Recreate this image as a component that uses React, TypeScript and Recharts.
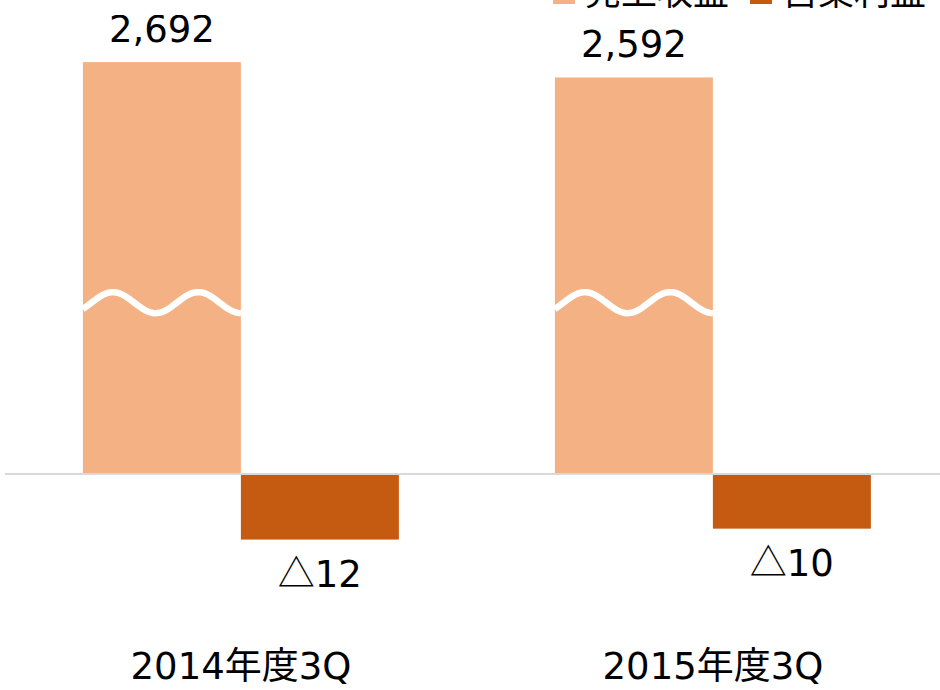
import React from 'react';
import { BarChart, Bar, XAxis, YAxis, ReferenceLine, Legend } from 'recharts';

const categories = ['2014年度3Q', '2015年度3Q'];
const revenue = [2692, 2592];
const operatingProfit = [-12, -10];
const seriesNames = ['売上収益', '営業利益'];
const revenueAxisDomain = [-1000, 3000];
const profitAxisDomain = [-28, 84];
const breakValue = 1120;

const data = categories.map((c, i) => ({ name: c, revenue: revenue[i], profit: operatingProfit[i] }));

const LIGHT = '#F4B183';
const DARK = '#C55A11';
const FONT = '"DejaVu Sans", "Noto Sans CJK JP", sans-serif';
const CJK = '"Noto Sans CJK JP", sans-serif';
const FONT_SIZE = 37;

const ValueText = ({ x, y, v }: { x: number; y: number; v: number }) => (
  <text x={x} y={y} textAnchor="middle" fontSize={FONT_SIZE} fontFamily={FONT} fill="#000">
    {v < 0 ? (
      <>
        <tspan fontFamily={CJK}>△</tspan>
        <tspan>{Math.abs(v)}</tspan>
      </>
    ) : (
      v.toLocaleString('en-US')
    )}
  </text>
);

const RevenueShape = (props: any) => {
  const { x, y, width, height, fill, payload } = props;
  const top = Math.min(y, y + height);
  const h = Math.abs(height);
  const bottom = top + h;
  const v = payload.revenue;
  const wc = bottom - (breakValue * h) / v;
  const period = width * 0.54;
  const phase0 = x + width * 0.19;
  const amp = 10.5;
  const pts: string[] = [];
  for (let xx = x; xx <= x + width + 0.01; xx += 2) {
    const yy = wc - amp * Math.cos((2 * Math.PI * (xx - phase0)) / period);
    pts.push(`${pts.length === 0 ? 'M' : 'L'}${xx.toFixed(2)},${yy.toFixed(2)}`);
  }
  return (
    <g>
      <rect x={x} y={top} width={width} height={h} fill={fill} />
      <path d={pts.join(' ')} stroke="#FFFFFF" strokeWidth={6.5} fill="none" />
      <ValueText x={x + width / 2} y={top - 20} v={v} />
    </g>
  );
};

const ProfitShape = (props: any) => {
  const { x, y, width, height, fill, payload } = props;
  const top = Math.min(y, y + height);
  const h = Math.abs(height);
  const bottom = top + h;
  const v = payload.profit;
  return (
    <g>
      <rect x={x} y={top} width={width} height={h} fill={fill} />
      <ValueText x={x + width / 2} y={v < 0 ? bottom + 47 : top - 20} v={v} />
    </g>
  );
};

const CategoryTick = (props: any) => {
  const { x, y, payload } = props;
  return (
    <text x={x} y={y + 52} textAnchor="middle" fontSize={FONT_SIZE} fontFamily={FONT} fill="#000">
      {payload.value}
    </text>
  );
};

const LegendContent = () => {
  const colors = [LIGHT, DARK];
  return (
    <div style={{ display: 'flex', alignItems: 'center', fontFamily: FONT, fontSize: 36, lineHeight: '44px', color: '#000', whiteSpace: 'nowrap' }}>
      {seriesNames.map((n, i) => (
        <div key={n} style={{ display: 'flex', alignItems: 'center', marginRight: 21 }}>
          <span style={{ display: 'inline-block', width: 22, height: 22, background: colors[i], marginRight: 10 }} />
          <span>{n}</span>
        </div>
      ))}
    </div>
  );
};

export default function App() {
  return (
    <div style={{ position: 'absolute', left: 0, top: 0, width: 940, height: 690, overflow: 'hidden', background: '#fff' }}>
      <div style={{ position: 'absolute', left: 0, top: -40 }}>
        <BarChart
          width={960}
          height={740}
          data={data}
          margin={{ top: 55, right: 11, bottom: 13, left: 5 }}
          barCategoryGap="16.5%"
          barGap={0}
        >
          <XAxis dataKey="name" axisLine={false} tickLine={false} tickSize={0} tickMargin={0} height={60} tick={<CategoryTick />} interval={0} />
          <YAxis yAxisId="left" domain={revenueAxisDomain} allowDataOverflow hide />
          <YAxis yAxisId="right" orientation="right" domain={profitAxisDomain} allowDataOverflow hide />
          <Legend
            layout="horizontal"
            verticalAlign="middle"
            align="center"
            wrapperStyle={{ top: 11, left: 553, width: 'auto', height: 44 }}
            content={<LegendContent />}
          />
          <Bar yAxisId="left" dataKey="revenue" name={seriesNames[0]} fill={LIGHT} shape={<RevenueShape />} isAnimationActive={false} />
          <Bar yAxisId="right" dataKey="profit" name={seriesNames[1]} fill={DARK} shape={<ProfitShape />} isAnimationActive={false} />
          <ReferenceLine yAxisId="left" y={0} stroke="#D9D9D9" strokeWidth={2} />
        </BarChart>
      </div>
    </div>
  );
}
